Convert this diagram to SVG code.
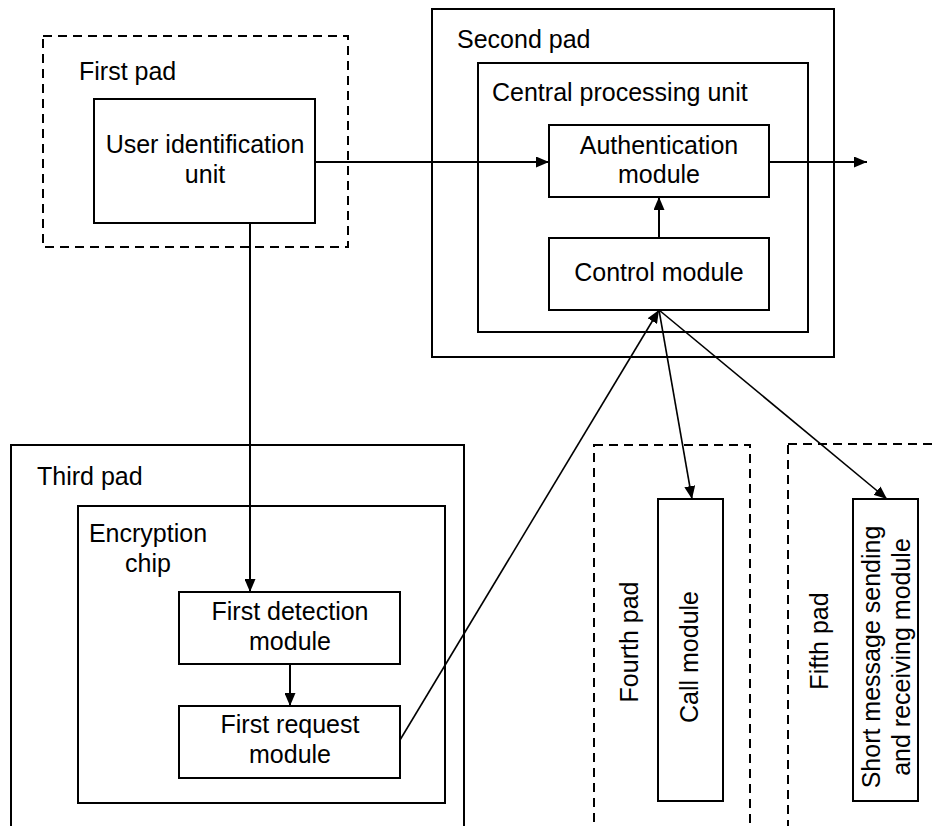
<svg xmlns="http://www.w3.org/2000/svg" width="935" height="826" viewBox="0 0 935 826">
<style>
.box{fill:none;stroke:#000;stroke-width:2}
.dash{fill:none;stroke:#000;stroke-width:2;stroke-dasharray:9,6}
.ln{fill:none;stroke:#000;stroke-width:2}
.dg{fill:none;stroke:#000;stroke-width:1.6}
text{font-family:"Liberation Sans",Arial,sans-serif;font-size:25px;fill:#000}
.c{text-anchor:middle}
</style>
<defs>
<marker id="ah" markerUnits="userSpaceOnUse" markerWidth="13" markerHeight="11" refX="13" refY="5.5" orient="auto">
<path d="M0,0 L13,5.5 L0,11 Z" fill="#000"/>
</marker>
</defs>
<rect width="935" height="826" fill="#fff"/>

<g id="first-pad">
<rect class="dash" x="43" y="36" width="305" height="211"/>
<text x="79" y="80">First pad</text>
</g>
<g id="user-identification-unit">
<rect class="box" x="94" y="99" width="221" height="124"/>
<text class="c" x="205" y="153">User identification</text>
<text class="c" x="205" y="183">unit</text>
</g>

<g id="second-pad">
<rect class="box" x="432" y="9" width="402" height="348"/>
<text x="457" y="48">Second pad</text>
</g>
<g id="central-processing-unit">
<rect class="box" x="478" y="63" width="330" height="269"/>
<text x="492" y="101">Central processing unit</text>
</g>
<g id="authentication-module">
<rect class="box" x="549" y="125" width="220" height="72"/>
<text class="c" x="659" y="154">Authentication</text>
<text class="c" x="659" y="183">module</text>
</g>
<g id="control-module">
<rect class="box" x="549" y="238" width="220" height="72"/>
<text class="c" x="659" y="281">Control module</text>
</g>

<g id="third-pad">
<rect class="box" x="11" y="445" width="453" height="400"/>
<text x="37" y="485">Third pad</text>
</g>
<g id="encryption-chip">
<rect class="box" x="78" y="506" width="367" height="297"/>
<text class="c" x="148" y="542">Encryption</text>
<text class="c" x="148" y="572">chip</text>
</g>
<g id="first-detection-module">
<rect class="box" x="179" y="592" width="221" height="72"/>
<text class="c" x="290" y="620">First detection</text>
<text class="c" x="290" y="650">module</text>
</g>
<g id="first-request-module">
<rect class="box" x="179" y="706" width="221" height="72"/>
<text class="c" x="290" y="733">First request</text>
<text class="c" x="290" y="763">module</text>
</g>

<g id="fourth-pad">
<rect class="dash" x="594" y="445" width="156" height="400"/>
<text class="c" transform="translate(638,642) rotate(-90)">Fourth pad</text>
</g>
<g id="call-module">
<rect class="box" x="658" y="499" width="65" height="302"/>
<text class="c" transform="translate(698,657) rotate(-90)">Call module</text>
</g>

<g id="fifth-pad">
<rect class="dash" x="788" y="444" width="160" height="400"/>
<text class="c" transform="translate(828,641) rotate(-90)">Fifth pad</text>
</g>
<g id="sms-module">
<rect class="box" x="853" y="499" width="65" height="302"/>
<text class="c" transform="translate(880,657) rotate(-90)">Short message sending</text>
<text class="c" transform="translate(910,657) rotate(-90)">and receiving module</text>
</g>

<g id="connectors">
<line class="ln" x1="315" y1="162" x2="549" y2="162" marker-end="url(#ah)"/>
<line class="ln" x1="769" y1="162" x2="867" y2="162" marker-end="url(#ah)"/>
<line class="ln" x1="659" y1="238" x2="659" y2="197" marker-end="url(#ah)"/>
<line class="ln" x1="250" y1="223" x2="250" y2="592" marker-end="url(#ah)"/>
<line class="ln" x1="290" y1="664" x2="290" y2="706" marker-end="url(#ah)"/>
<line class="dg" x1="400" y1="740" x2="659" y2="310" marker-end="url(#ah)"/>
<line class="dg" x1="659" y1="310" x2="692" y2="499" marker-end="url(#ah)"/>
<line class="dg" x1="659" y1="310" x2="887" y2="499" marker-end="url(#ah)"/>
</g>
</svg>
